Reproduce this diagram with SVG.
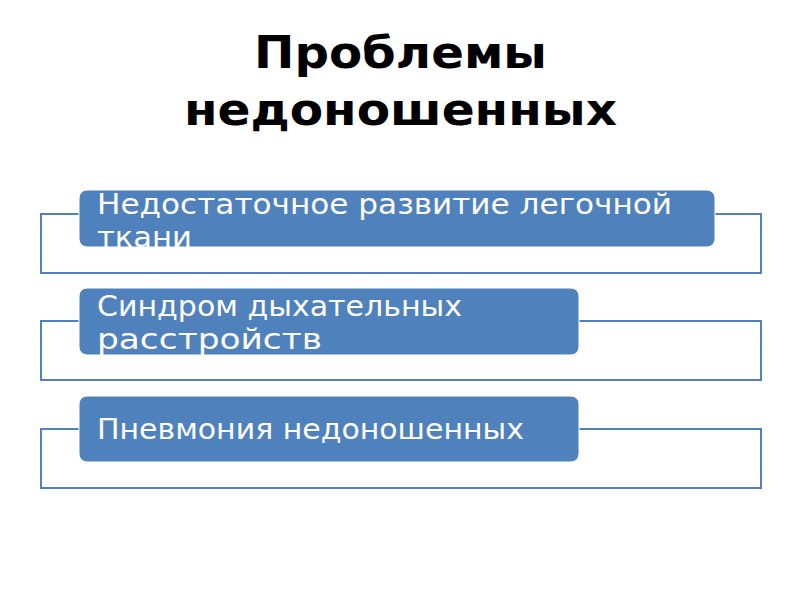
<svg xmlns="http://www.w3.org/2000/svg" width="800" height="600" viewBox="0 0 800 600">
<style>
.title{font-family:"DejaVu Sans",sans-serif;font-weight:bold;font-size:44px;fill:#000}
.frame{fill:#fff;stroke:#4F81BD;stroke-width:2}
.pill{fill:#4F81BD;stroke:#fff;stroke-width:1}
.lbl{font-family:"DejaVu Sans",sans-serif;font-size:28px;fill:#fff}
</style>
<rect width="800" height="600" fill="#fff"/>
<g id="title">
<text class="title" x="254" y="68" textLength="293" lengthAdjust="spacingAndGlyphs">Проблемы</text>
<text class="title" x="184" y="125" textLength="433" lengthAdjust="spacingAndGlyphs">недоношенных</text>
</g>
<g id="node1">
<rect class="frame" x="41" y="214" width="720" height="59"/>
<rect class="pill" x="79" y="190" width="636" height="57" rx="8"/>
<text class="lbl" x="97" y="214" textLength="575" lengthAdjust="spacingAndGlyphs">Недостаточное развитие легочной</text>
<text class="lbl" x="97" y="247" textLength="95" lengthAdjust="spacingAndGlyphs">ткани</text>
</g>
<g id="node2">
<rect class="frame" x="41" y="321" width="720" height="59"/>
<rect class="pill" x="79" y="288" width="500" height="67" rx="8"/>
<text class="lbl" x="97" y="316" textLength="365" lengthAdjust="spacingAndGlyphs">Синдром дыхательных</text>
<text class="lbl" x="97" y="349" textLength="225" lengthAdjust="spacingAndGlyphs">расстройств</text>
</g>
<g id="node3">
<rect class="frame" x="41" y="429" width="720" height="59"/>
<rect class="pill" x="79" y="396" width="500" height="66" rx="8"/>
<text class="lbl" x="97" y="439" textLength="427" lengthAdjust="spacingAndGlyphs">Пневмония недоношенных</text>
</g>
<g id="connectors"></g>
</svg>
